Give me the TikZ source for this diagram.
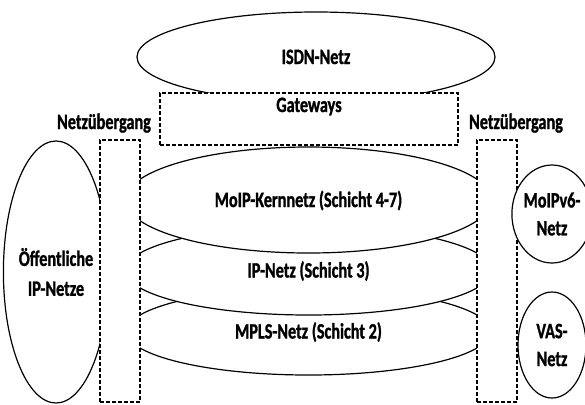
\documentclass[tikz,border=0pt]{standalone}
\usepackage{fontspec}
\setmainfont[FakeStretch=0.74,BoldFeatures={FakeBold=1.2}]{Carlito}
\usetikzlibrary{shapes.geometric}
\begin{document}
\begin{tikzpicture}[x=1bp,y=-1bp,
  every node/.style={font=\bfseries\fontsize{22}{28}\selectfont},
  net/.style={ellipse, draw, line width=1.2bp, fill=white, inner sep=0pt},
  oneline/.style={text height=14bp, text depth=0pt},
  gwbox/.style={draw, dash pattern=on 4bp off 2bp, line width=1.5bp, fill=white, inner sep=0pt},
  lbl/.style={inner sep=0pt, text height=14bp, text depth=0pt}]
\useasboundingbox (0,0) rectangle (585,404);
% ISDN
\node[net, oneline, minimum width=358bp, minimum height=90bp] (isdn) at (316,57) {ISDN-Netz};
% Gateways
\node[gwbox, minimum width=298bp, minimum height=52bp] (gw) at (309,119) {};
\node[lbl] (gwt) at (309,105) {Gateways};
% layers
\node[net, oneline, minimum width=364bp, minimum height=87bp] (mpls) at (308.5,331.5) {MPLS-Netz (Schicht 2)};
\node[net, oneline, minimum width=366bp, minimum height=89bp] (ip) at (308.5,270.5) {IP-Netz (Schicht 3)};
\node[net, oneline, minimum width=366bp, minimum height=106bp] (moip) at (308.5,200) {MoIP-Kernnetz (Schicht 4-7)};
% left public nets
\node[net, align=center, font=\bfseries\fontsize{22}{30}\selectfont, minimum width=86bp, minimum height=262bp] (pub) at (56,272) {Öffentliche\\IP-Netze};
% gateway boxes
\node[gwbox, minimum width=40bp, minimum height=262bp] (lbox) at (120,271) {};
\node[gwbox, minimum width=40bp, minimum height=262bp] (rbox) at (497,271) {};
\node[lbl] (lnu) at (104,122) {Netzübergang};
\node[lbl] (rnu) at (516,122) {Netzübergang};
% right nets
\node[net, align=center, minimum width=68bp, minimum height=98bp] (v6) at (552,214) {MoIPv6-\\Netz};
\node[net, align=center, minimum width=68bp, minimum height=106bp] (vas) at (552,345) {VAS-\\Netz};
\end{tikzpicture}
\end{document}
